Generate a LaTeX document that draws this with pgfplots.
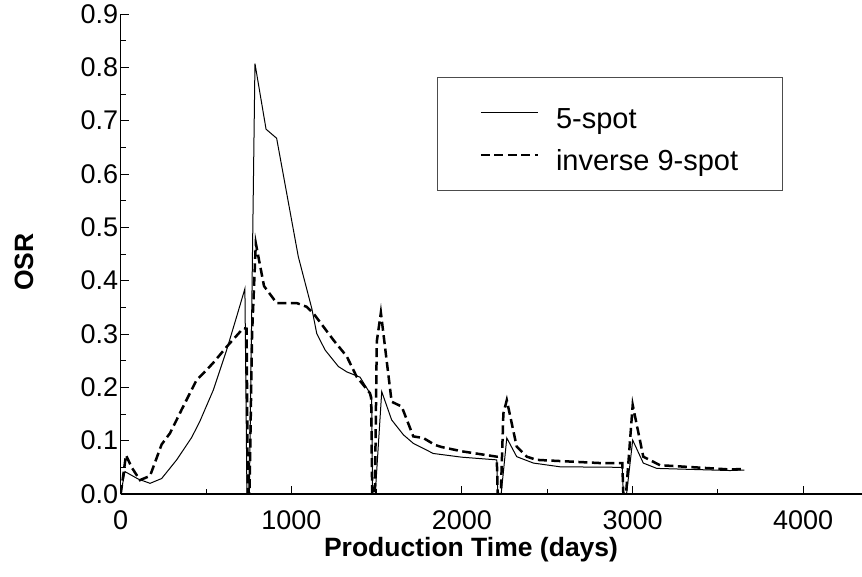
\documentclass[border=0pt]{standalone}
\usepackage{fontspec}
\setmainfont{Liberation Sans}
\usepackage{pgfplots}
\pgfplotsset{compat=1.18}
\begin{document}
\begin{tikzpicture}
\begin{axis}[
  at={(0pt,0pt)}, anchor=south west,
  scale only axis, width=741.3pt, height=480pt,
  xmin=0, xmax=4345, ymin=0, ymax=0.9,
  axis lines*=left,
  axis line style={line width=1.5pt},
  tick align=inside,
  major tick length=8pt, minor tick length=5pt,
  every tick/.style={black, line width=1pt},
  xtick={0,1000,2000,3000,4000},
  minor xtick={500,1500,2500,3500},
  ytick={0,0.1,...,0.9},
  minor ytick={0.05,0.15,...,0.85},
  /pgf/number format/assume math mode=true,
  xticklabel style={/pgf/number format/1000 sep={}, font=\fontsize{27}{32}\selectfont, yshift=-13pt},
  yticklabel style={/pgf/number format/.cd, fixed, fixed zerofill, precision=1, /tikz/.cd, font=\fontsize{27}{32}\selectfont, xshift=1pt},
  xlabel={\textbf{Production Time (days)}},
  ylabel={\textbf{OSR}},
  every axis x label/.style={at={(axis description cs:0.4726,-0.1167)}, anchor=center},
  every axis y label/.style={at={(axis description cs:-0.1304,0.483)}, anchor=center, rotate=90},
  label style={font=\fontsize{26.5}{32}\selectfont},
  legend style={at={(0.4267,0.869)}, anchor=north west, draw=black!70, line width=1pt,
    font=\fontsize{29}{34}\selectfont, inner xsep=42pt, inner ysep=16pt, row sep=4pt,
    column sep=15pt, nodes={text height=33pt}},
  legend cell align=left,
  legend image code/.code={\draw[#1] (0pt,0pt) -- (57pt,0pt);},
]
\addplot[black, line width=1pt] coordinates {
(0,0) (25,0.042) (103,0.028) (172,0.020) (240,0.029) (328,0.064) (416,0.106) (465,0.137)
(543,0.195) (621,0.270) (680,0.333) (728,0.385) (740,0.0) (754,0.0) (787,0.807)
(852,0.684) (914,0.667) (1041,0.445) (1120,0.348) (1149,0.301) (1198,0.270) (1276,0.239)
(1325,0.229) (1403,0.219) (1461,0.189) (1471,0.183) (1476,0.0) (1492,0.0) (1530,0.192)
(1588,0.139) (1657,0.111) (1715,0.095) (1832,0.076) (2000,0.069) (2204,0.064) (2210,0.0) (2230,0.0)
(2263,0.105) (2321,0.070) (2419,0.058) (2575,0.051) (2940,0.050) (2946,0.0) (2965,0.0)
(3001,0.101) (3063,0.058) (3142,0.048) (3571,0.044) (3655,0.045)
};
\addlegendentry{5-spot}
\addplot[black, line width=2.5pt, dash pattern=on 9pt off 4.5pt] coordinates {
(0,0) (31,0.073) (64,0.050) (113,0.026) (172,0.034) (240,0.093) (289,0.114) (357,0.158)
(445,0.214) (465,0.220) (540,0.245) (621,0.276) (719,0.311) (738,0.31) (745,0.0) (755,0.0)
(770,0.30) (792,0.470) (840,0.39) (914,0.358) (1032,0.358) (1090,0.351) (1129,0.339)
(1246,0.289) (1325,0.258) (1383,0.220) (1461,0.189) (1468,0.180) (1474,0.0) (1490,0.0)
(1501,0.286) (1525,0.340) (1588,0.173) (1647,0.164) (1715,0.108) (1774,0.105) (1842,0.092)
(1882,0.088) (2000,0.080) (2204,0.070) (2210,0.0) (2228,0.0) (2243,0.151) (2263,0.176)
(2321,0.089) (2380,0.070) (2438,0.064) (2810,0.058) (2940,0.058) (2946,0.0) (2962,0.0)
(3001,0.167) (3063,0.070) (3161,0.054) (3571,0.046) (3655,0.047)
};
\addlegendentry{inverse 9-spot}
\end{axis}
\pgfresetboundingbox
\path[use as bounding box] (-120.7pt,-82pt) rectangle (741.3pt,494pt);
\end{tikzpicture}
\end{document}
